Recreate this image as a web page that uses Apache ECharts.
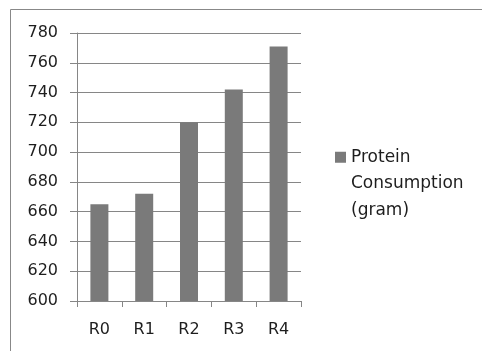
<!DOCTYPE html>
<html>
<head>
<meta charset="utf-8">
<script src="https://cdn.jsdelivr.net/npm/echarts@6/dist/echarts.min.js"></script>
<style>html,body{margin:0;padding:0;background:#fff;}#c{width:482px;height:351px;}</style>
</head>
<body>
<div id="c"></div>
<script>
var categories = ['R0', 'R1', 'R2', 'R3', 'R4'];
var proteinValues = [665, 672, 720, 742, 771];
var seriesName = 'Protein Consumption (gram)';

var chart = echarts.init(document.getElementById('c'));
var lineColor = '#868686';
var textColor = '#1e1e1e';
var font = 'DejaVu Sans, sans-serif';
chart.setOption({
  animation: false,
  backgroundColor: '#fff',
  graphic: [{
    type: 'rect',
    shape: { x: 10.5, y: 9.5, width: 480, height: 350 },
    style: { fill: 'none', stroke: '#888', lineWidth: 1 }
  }],
  grid: { left: 77, top: 33, width: 224, height: 268, containLabel: false },
  legend: {
    left: 335, top: 91,
    padding: 0,
    orient: 'vertical',
    itemWidth: 11, itemHeight: 11, itemGap: 4,
    icon: 'rect',
    formatter: function (n) { return '\n\n' + n.replace('Protein Consumption ', 'Protein\nConsumption\n'); },
    textStyle: { fontFamily: font, fontSize: 17, color: textColor, lineHeight: 26.5 }
  },
  xAxis: {
    type: 'category',
    data: categories,
    axisLine: { show: true, lineStyle: { color: lineColor, width: 1 } },
    axisTick: { show: true, length: 6, lineStyle: { color: lineColor } },
    axisLabel: { fontFamily: font, fontSize: 16, color: textColor, margin: 21 }
  },
  yAxis: {
    type: 'value',
    min: 600, max: 780, interval: 20,
    axisLine: { show: true, lineStyle: { color: lineColor, width: 1 } },
    axisTick: { show: true, length: 7, lineStyle: { color: lineColor } },
    axisLabel: { fontFamily: font, fontSize: 16, color: textColor, margin: 19 },
    splitLine: { show: true, lineStyle: { color: lineColor, width: 1 } }
  },
  series: [{
    name: seriesName,
    type: 'bar',
    data: proteinValues,
    barWidth: 18,
    itemStyle: { color: '#7a7a7a' }
  }]
});
</script>
</body>
</html>
